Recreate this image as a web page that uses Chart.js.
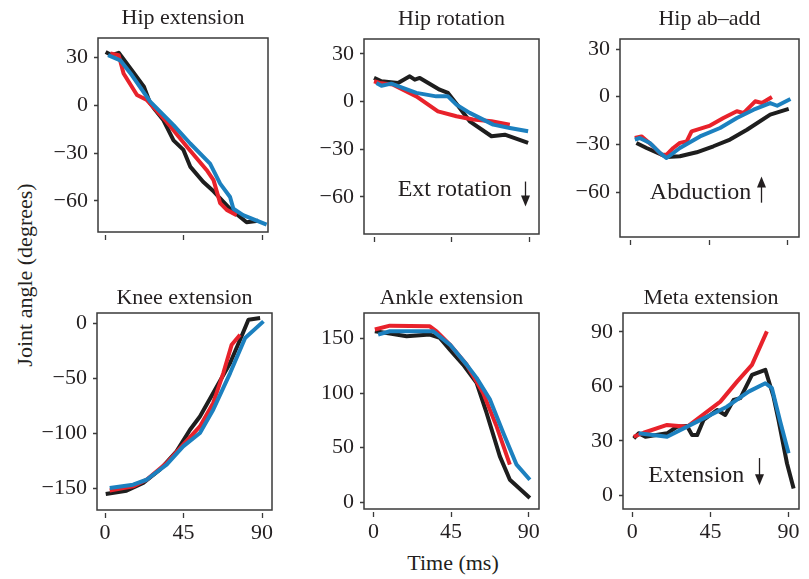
<!DOCTYPE html>
<html>
<head>
<meta charset="utf-8">
<script src="https://cdn.jsdelivr.net/npm/chart.js@4.4.1/dist/chart.umd.min.js"></script>
<style>
  body { margin: 0; background: #fff; width: 809px; height: 579px; overflow: hidden; position: relative; font-family: "Liberation Serif", serif; }
  canvas { position: absolute; left: 0; top: 0; }
  .lbl { position: absolute; font-size: 22px; color: #231f20; white-space: nowrap; line-height: 1; }
  #ylab { left: 25px; top: 275px; transform: translate(-50%, -50%) rotate(-90deg); }
  #xlab { left: 453px; top: 563px; transform: translate(-50%, -50%); }
</style>
</head>
<body>
<div class="lbl" id="ylab">Joint angle (degrees)</div>
<div class="lbl" id="xlab">Time (ms)</div>
<canvas id="c1" width="809" height="579"></canvas>
<canvas id="c2" width="809" height="579"></canvas>
<canvas id="c3" width="809" height="579"></canvas>
<canvas id="c4" width="809" height="579"></canvas>
<canvas id="c5" width="809" height="579"></canvas>
<canvas id="c6" width="809" height="579"></canvas>
<script>
// tick values
const timeTicks = [0, 45, 90];
const hipTicks = [-60, -30, 0, 30];
const kneeTicks = [-150, -100, -50, 0];
const ankleTicks = [0, 50, 100, 150];
const metaTicks = [0, 30, 60, 90];

// Hip extension
const hipExtBlackT = [0, 3.5, 7.5, 15, 22, 25.6, 28.5, 33, 39, 44.7, 48.6, 56, 62, 71.5, 81, 87.7];
const hipExtBlackV = [33.5, 31.5, 33, 22, 11.7, 1.2, -3, -9, -22, -28, -38.5, -48, -54, -65, -73.5, -72.5];
const hipExtRedT = [2.7, 7.5, 10.3, 18, 23.7, 35, 46.7, 58, 62, 65.8, 69.6, 75.3];
const hipExtRedV = [32.6, 31.5, 20, 6.5, 3.3, -10.3, -26, -40.6, -47, -61.5, -65.7, -69];
const hipExtBlueT = [1.4, 8.4, 15, 25.6, 39, 48.6, 60, 65.8, 71.5, 73.4, 79, 92.5];
const hipExtBlueV = [31.5, 28.3, 19, 2.3, -12.4, -24, -36.6, -49.2, -57.6, -65, -69, -75];

// Hip rotation
const hipRotBlackT = [0, 4.3, 13.9, 20.7, 23.6, 26.5, 38, 42.8, 49.6, 55.4, 68, 75.7, 89.2];
const hipRotBlackV = [14.9, 12.8, 11.7, 15.9, 13.8, 14.9, 7.5, 5.5, -4, -12.4, -21.8, -20.8, -26];
const hipRotRedT = [0, 3.3, 11, 24.5, 37, 47.7, 57.3, 68, 78.6];
const hipRotRedV = [12.8, 11.7, 10.7, 3.3, -6.1, -9.2, -11.3, -12.4, -14.5];
const hipRotBlueT = [1.4, 4.3, 10, 24.5, 36, 42.8, 47.7, 55.4, 69, 78.6, 89.2];
const hipRotBlueV = [11.7, 10, 11.3, 5.5, 3.3, 3.3, -1.9, -7.1, -14.5, -16.6, -18.7];

// Hip ab-add
const hipAbBlackT = [3.4, 9.2, 20.7, 28.3, 37.9, 47.5, 57, 66.7, 80, 90.6];
const hipAbBlackV = [-29.1, -32.3, -37.9, -37.5, -35, -31.2, -27, -20.8, -11.3, -7.7];
const hipAbRedT = [2.5, 6.3, 12, 17.8, 20.7, 24.5, 28.3, 32.2, 35, 45.6, 53.2, 60.9, 64.7, 71.4, 75.3, 81];
const hipAbRedV = [-26, -25, -30.2, -36.5, -36.5, -32.3, -29.1, -28.1, -21.8, -18.2, -13.4, -9.2, -10.3, -2.9, -4, -0.2];
const hipAbBlueT = [2.5, 5.3, 11.1, 16.8, 20.7, 28.3, 39.8, 51.3, 60.9, 70.5, 80, 84, 91.6];
const hipAbBlueV = [-27, -26, -29.1, -35.4, -38.6, -32.3, -25, -19.7, -13.4, -8.2, -4, -5.7, -1.5];

// Knee extension
const kneeBlackT = [0.4, 12.3, 21.9, 31.4, 41, 48.7, 54.4, 62, 71.7, 77.4, 82.2, 88.9];
const kneeBlackV = [-155.5, -152.5, -145.5, -133.4, -116.7, -97, -85, -63.6, -36.4, -15.2, 3, 4.5];
const kneeRedT = [2.7, 16.1, 23.8, 35.3, 44.8, 54.4, 62, 67.8, 72.6, 77.4];
const kneeRedV = [-152.2, -148.5, -142.5, -127.3, -110.6, -94, -72.7, -45.5, -19.7, -10.6];
const kneeBlueT = [2.7, 16.1, 23.8, 35.3, 44.8, 54.4, 62, 71.7, 80.3, 90.8];
const kneeBlueV = [-150, -147, -142.5, -128.8, -112.2, -100, -78.8, -45.5, -13.6, 1.5];

// Ankle extension
const ankleBlackT = [0.8, 9.5, 19.2, 32.7, 38.5, 44.3, 52, 59.8, 65.6, 73.3, 79.1, 90.7];
const ankleBlackV = [156.8, 154.7, 152.2, 153.8, 150.7, 140, 126.2, 109.4, 81.8, 41.9, 20.5, 3.7];
const ankleRedT = [0.8, 9.5, 32.7, 36.6, 44.3, 54, 63.6, 71.4, 79.1];
const ankleRedV = [158.4, 162, 161.4, 156.8, 144.6, 126.2, 100.2, 69.5, 34.3];
const ankleBlueT = [2.7, 9.5, 34.6, 44.3, 54, 59.8, 67.6, 75.3, 83, 90.7];
const ankleBlueV = [153.8, 156.8, 156.8, 144.6, 126.2, 114, 94, 63.4, 34.3, 20.5];

// Meta extension
const metaBlackT = [0.8, 3.6, 7.5, 20, 25.7, 31.5, 34.4, 37.3, 41, 48.8, 53.5, 58.3, 62.2, 68.9, 76.6, 81.3, 84.2, 89.1, 92.9];
const metaBlackV = [31.4, 34.2, 32.3, 34.2, 37.8, 38.2, 33.2, 33.2, 41.5, 47, 44.3, 52.5, 53.5, 66.3, 69.1, 54.4, 41.5, 17.6, 3.9];
const metaRedT = [0.8, 6.5, 20, 31.5, 50.7, 60.3, 68.9, 77.5];
const metaRedV = [32.3, 34.5, 38.8, 37.8, 51.6, 62.6, 71.8, 90.2];
const metaBlueT = [3.6, 20, 37.3, 54.5, 67, 76.6, 80.4, 85.2, 90];
const metaBlueV = [34.2, 32.3, 40.6, 48.8, 57.1, 61.7, 59, 40.6, 23.2];

const BLACK = '#1e1e1e', RED = '#e8222b', BLUE = '#1c80bf';
const TEXT = '#231f20', FRAME = '#3a3a3a';
const FONT = '"Liberation Serif", serif';
const YW = 70, XH = 40;

function pts(t, v) { return t.map((x, i) => ({ x: x, y: v[i] })); }

// frame, title and annotation
const decor = {
  id: 'decor',
  afterDraw(chart, args, o) {
    const { ctx, chartArea: a, scales } = chart;
    ctx.save();
    ctx.strokeStyle = FRAME;
    ctx.lineWidth = 1.5;
    ctx.strokeRect(a.left, a.top, a.right - a.left, a.bottom - a.top);
    ctx.fillStyle = TEXT;
    ctx.font = '22px ' + FONT;
    ctx.textAlign = 'center';
    ctx.textBaseline = 'alphabetic';
    ctx.fillText(o.title, (a.left + a.right) / 2, a.top - o.titleGap);
    if (o.note) {
      const n = o.note;
      ctx.font = '24px ' + FONT;
      ctx.textAlign = 'left';
      ctx.fillText(n.text, scales.x.getPixelForValue(n.x), scales.y.getPixelForValue(n.y));
      const ax = Math.round(scales.x.getPixelForValue(n.ax)) + 0.5;
      const y0 = scales.y.getPixelForValue(n.from), y1 = scales.y.getPixelForValue(n.to);
      const dir = y1 > y0 ? 1 : -1;
      ctx.strokeStyle = TEXT;
      ctx.lineWidth = 1.3;
      ctx.beginPath();
      ctx.moveTo(ax, y0);
      ctx.lineTo(ax, y1 - dir * 8);
      ctx.stroke();
      ctx.beginPath();
      ctx.moveTo(ax - 4.5, y1 - dir * 11);
      ctx.lineTo(ax + 4.5, y1 - dir * 11);
      ctx.lineTo(ax, y1);
      ctx.closePath();
      ctx.fill();
    }
    ctx.restore();
  }
};

function makePanel(id, p) {
  const series = [
    { t: p.bt, v: p.bv, c: BLACK, order: 3 },
    { t: p.rt, v: p.rv, c: RED, order: 2 },
    { t: p.ut, v: p.uv, c: BLUE, order: 1 }
  ];
  const tickFont = { family: FONT, size: 22 };
  new Chart(document.getElementById(id), {
    type: 'line',
    data: {
      datasets: series.map(s => ({
        data: pts(s.t, s.v),
        borderColor: s.c,
        borderWidth: 4,
        pointRadius: 0,
        tension: 0,
        borderJoinStyle: 'round',
        order: s.order
      }))
    },
    options: {
      responsive: false,
      animation: false,
      events: [],
      layout: { padding: { left: p.box[0] - YW, top: p.box[1], right: 809 - p.box[2], bottom: 579 - p.box[3] - XH } },
      plugins: {
        legend: { display: false },
        tooltip: { enabled: false },
        decor: { title: p.title, titleGap: p.titleGap, note: p.note }
      },
      scales: {
        x: {
          type: 'linear',
          min: p.xr[0], max: p.xr[1],
          afterFit: s => { s.height = XH; },
          afterBuildTicks: s => { s.ticks = timeTicks.map(v => ({ value: v })); },
          border: { display: false },
          grid: { drawOnChartArea: false, tickLength: 8, tickBorderDash: [0, 3, 5, 20], tickColor: FRAME, tickWidth: 1.3 },
          ticks: { display: p.showX, padding: 2, font: tickFont, color: TEXT, maxRotation: 0 }
        },
        y: {
          min: p.yr[0], max: p.yr[1],
          afterFit: s => { s.width = YW; },
          afterBuildTicks: s => { s.ticks = p.yt.map(v => ({ value: v })); },
          border: { display: false },
          grid: { drawOnChartArea: false, tickLength: 6, tickBorderDash: [0, 2, 4, 20], tickColor: FRAME, tickWidth: 1.3 },
          ticks: { padding: 4, font: tickFont, color: TEXT, callback: v => (v < 0 ? '\u2212' + (-v) : '' + v) }
        }
      }
    },
    plugins: [decor]
  });
}

makePanel('c1', { title: 'Hip extension', titleGap: 14, box: [98, 38, 268, 232], xr: [-4.4, 93.3], yr: [-79.6, 42.3], yt: hipTicks, showX: false,
  bt: hipExtBlackT, bv: hipExtBlackV, rt: hipExtRedT, rv: hipExtRedV, ut: hipExtBlueT, uv: hipExtBlueV });
makePanel('c2', { title: 'Hip rotation', titleGap: 14, box: [364, 39, 539, 234], xr: [-5.8, 95.5], yr: [-83.3, 39.4], yt: hipTicks, showX: false,
  bt: hipRotBlackT, bv: hipRotBlackV, rt: hipRotRedT, rv: hipRotRedV, ut: hipRotBlueT, uv: hipRotBlueV,
  note: { text: 'Ext rotation', x: 13.7, y: -59.6, ax: 87.2, from: -50.3, to: -66 } });
makePanel('c3', { title: 'Hip ab\u2013add', titleGap: 14, box: [620, 39, 799, 237], xr: [-6, 96.5], yr: [-88.3, 36.3], yt: hipTicks, showX: false,
  bt: hipAbBlackT, bv: hipAbBlackV, rt: hipAbRedT, rv: hipAbRedV, ut: hipAbBlueT, uv: hipAbBlueV,
  note: { text: 'Abduction', x: 11.1, y: -64.2, ax: 74.9, from: -66.7, to: -50.3 } });
makePanel('c4', { title: 'Knee extension', titleGap: 9, box: [97, 313, 272, 510], xr: [-4.6, 95.7], yr: [-170, 9.1], yt: kneeTicks, showX: true,
  bt: kneeBlackT, bv: kneeBlackV, rt: kneeRedT, rv: kneeRedV, ut: kneeBlueT, uv: kneeBlueV });
makePanel('c5', { title: 'Ankle extension', titleGap: 9, box: [364, 313, 539, 509], xr: [-5.5, 96], yr: [-6.4, 173.6], yt: ankleTicks, showX: true,
  bt: ankleBlackT, bv: ankleBlackV, rt: ankleRedT, rv: ankleRedV, ut: ankleBlueT, uv: ankleBlueV });
makePanel('c6', { title: 'Meta extension', titleGap: 9, box: [623, 313, 799, 509], xr: [-5.4, 96], yr: [-7.4, 100.3], yt: metaTicks, showX: true,
  bt: metaBlackT, bv: metaBlackV, rt: metaRedT, rv: metaRedV, ut: metaBlueT, uv: metaBlueV,
  note: { text: 'Extension', x: 9.2, y: 7.3, ax: 73.1, from: 20.6, to: 5.7 } });
</script>
</body>
</html>
